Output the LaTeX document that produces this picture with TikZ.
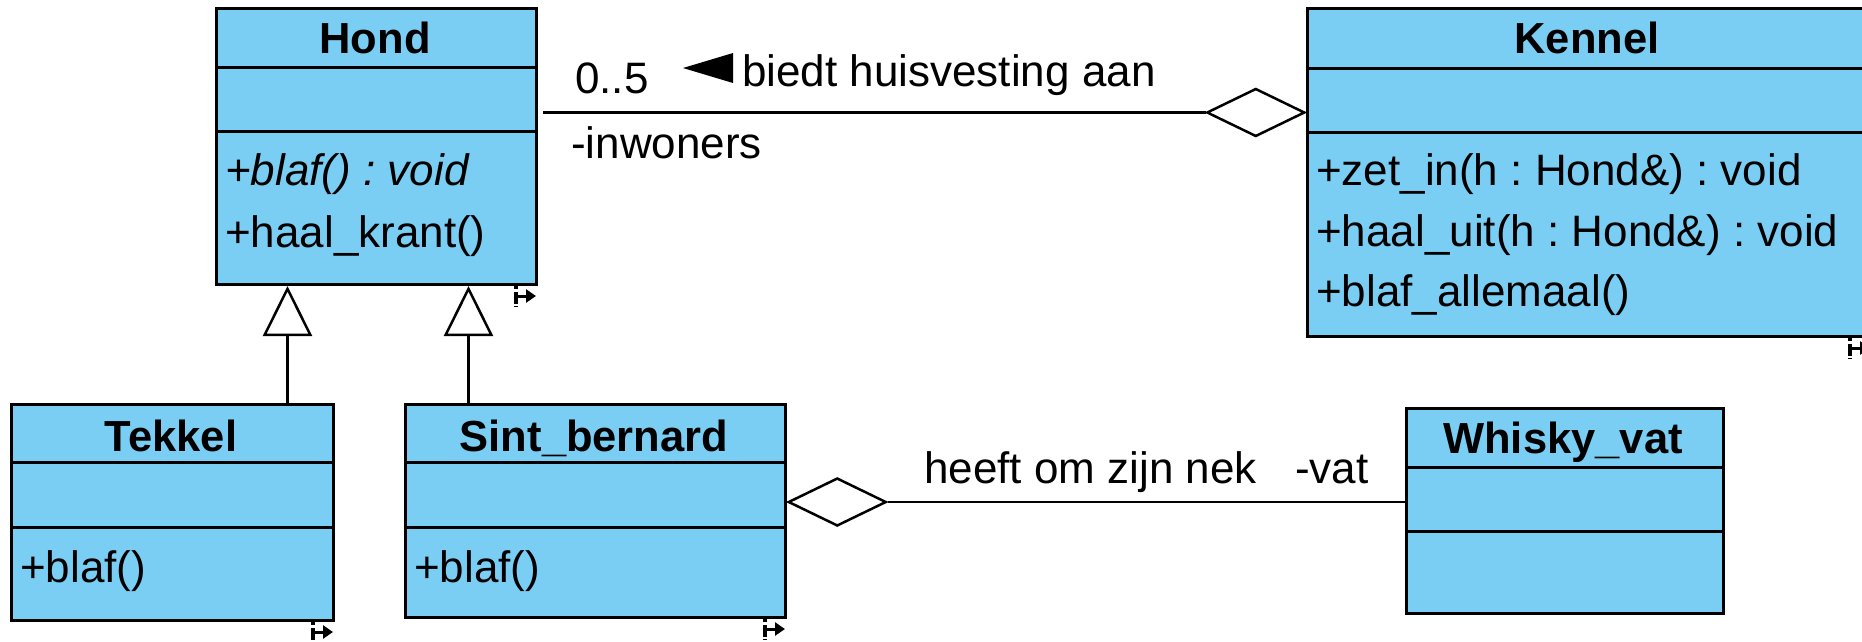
\documentclass[tikz,border=0pt]{standalone}
\usepackage{fontspec}
\setmainfont{Liberation Sans}
\usetikzlibrary{arrows.meta,shapes.geometric,calc}
\definecolor{umlfill}{RGB}{122,206,244}
\frenchspacing
\tikzset{
  classbox/.style={draw=black, fill=umlfill, line width=3pt, inner sep=0pt, anchor=north west},
  divider/.style={line width=3pt},
  ctitle/.style={font=\bfseries\fontsize{43.5}{50}\selectfont, inner sep=0pt, anchor=base},
  member/.style={font=\fontsize{44}{50}\selectfont, inner sep=0pt, anchor=base west},
  conn/.style={line width=2.5pt},
  gen/.style={line width=2.5pt, -{Triangle[open, length=50pt, width=49pt, fill=white]}},
  aggr/.style={draw, fill=white, shape=diamond, aspect=2, minimum width=98pt, minimum height=48pt, inner sep=0pt, line width=2.5pt},
  rsdash/.style={line width=3.5pt, dash pattern=on 3pt off 3pt on 12pt off 2pt},
  rsarrow/.style={line width=3pt, -{Triangle[length=10pt, width=13pt]}},
}
\newcommand{\resizemark}[1]{%
  \draw[rsdash] ([xshift=-22pt]#1.south east) -- ++(0,21);
  \draw[rsarrow] ([xshift=-22pt,yshift=-10pt]#1.south east) -- ++(20,0);
}
\begin{document}
\begin{tikzpicture}[x=1pt, y=-1pt]
\clip (0,0) rectangle (1862,641);
\fill[white] (0,0) rectangle (1862,641);

% class boxes
\node[classbox, minimum width=320pt, minimum height=276pt] (hond) at (215,7) {};
\node[classbox, minimum width=563pt, minimum height=328pt] (kennel) at (1306,7) {};
\node[classbox, minimum width=322pt, minimum height=216pt] (tekkel) at (10,403) {};
\node[classbox, minimum width=380pt, minimum height=213pt] (sint) at (404,403) {};
\node[classbox, minimum width=317pt, minimum height=205pt] (whisky) at (1405,407) {};

% dividers
\draw[divider] ($(hond.north west)+(0,60)$) -- ($(hond.north east)+(0,60)$);
\draw[divider] ($(hond.north west)+(0,124)$) -- ($(hond.north east)+(0,124)$);
\draw[divider] ($(kennel.north west)+(0,61)$) -- ($(kennel.north east)+(0,61)$);
\draw[divider] ($(kennel.north west)+(0,125)$) -- ($(kennel.north east)+(0,125)$);
\draw[divider] ($(tekkel.north west)+(0,59)$) -- ($(tekkel.north east)+(0,59)$);
\draw[divider] ($(tekkel.north west)+(0,124)$) -- ($(tekkel.north east)+(0,124)$);
\draw[divider] ($(sint.north west)+(0,59)$) -- ($(sint.north east)+(0,59)$);
\draw[divider] ($(sint.north west)+(0,124)$) -- ($(sint.north east)+(0,124)$);
\draw[divider] ($(whisky.north west)+(0,60)$) -- ($(whisky.north east)+(0,60)$);
\draw[divider] ($(whisky.north west)+(0,124)$) -- ($(whisky.north east)+(0,124)$);

% titles
\node[ctitle] (hondT) at (375,53) {Hond};
\node[ctitle] (kennelT) at (1587,53) {Kennel};
\node[ctitle] (tekkelT) at (171,451) {Tekkel};
\node[ctitle] (sintT) at (594,451) {Sint\_bernard};
\node[ctitle] (whiskyT) at (1563,453) {Whisky\_vat};

% members
\node[member] (hondM1) at (225,185) {\itshape +blaf() : void};
\node[member] (hondM2) at (225,247) {+haal\_krant()};
\node[member] (kennelM1) at (1316,185) {+zet\_in(h : Hond\&) : void};
\node[member] (kennelM2) at (1316,246) {+haal\_uit(h : Hond\&) : void};
\node[member] (kennelM3) at (1316,306) {+blaf\_allemaal()};
\node[member] (tekkelM1) at (20,582) {+blaf()};
\node[member] (sintM1) at (414,582) {+blaf()};

% generalizations
\draw[gen] ([xshift=115pt]tekkel.north) -- ([xshift=115pt]tekkel.north |- hond.south);
\draw[gen] ([xshift=-127pt]sint.north) -- ([xshift=-127pt]sint.north |- hond.south);

% aggregation Kennel - Hond
\node[aggr, anchor=east] (d1) at ([yshift=60pt]kennel.west) {};
\draw[conn] ([xshift=5pt]hond.east |- d1.west) -- (d1.west);
\node[member] (mult) at (575,93) {0..5};
\node[member] (role1) at (571,158) {-inwoners};
\fill (733,53) -- (683,68) -- (733,83) -- cycle;
\node[member] (assoc1) at (742,86) {biedt huisvesting aan};

% aggregation Sint_bernard - Whisky_vat
\node[aggr, anchor=west] (d2) at ([yshift=9pt]sint.east) {};
\draw[conn] (d2.east) -- (d2.east -| whisky.west);
\node[member] (assoc2) at (924,483) {heeft om zijn nek};
\node[member] (role2) at (1295,483) {-vat};

% resize marks
\resizemark{hond}
\resizemark{kennel}
\resizemark{tekkel}
\resizemark{sint}
\end{tikzpicture}
\end{document}
